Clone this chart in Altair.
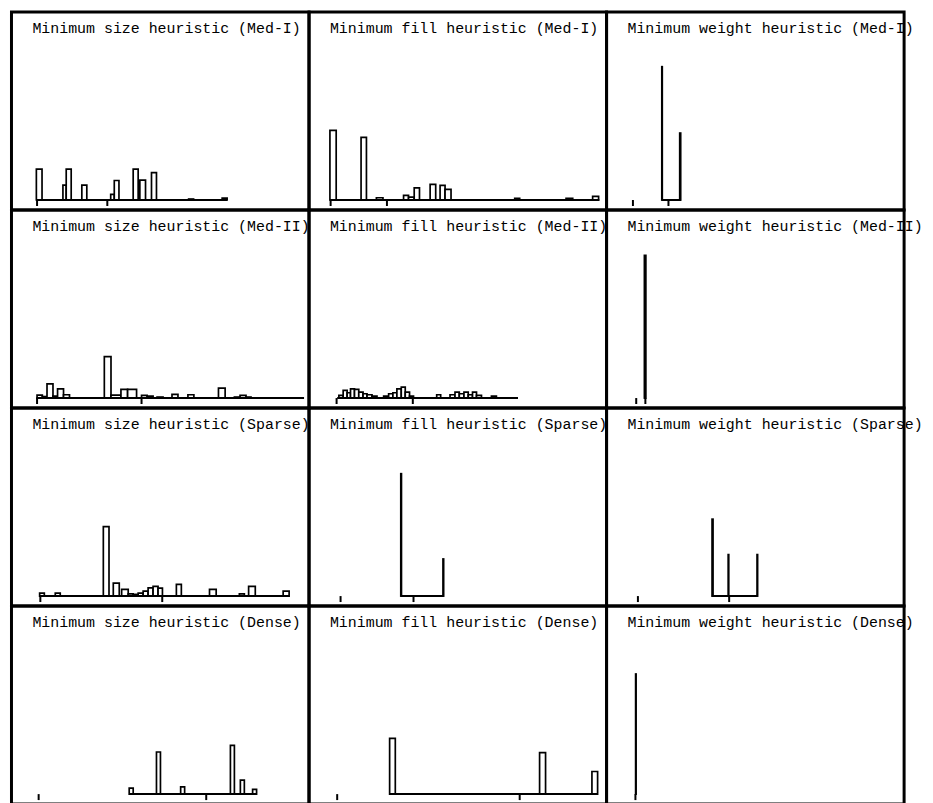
import altair as alt
import pandas as pd

# ---- data (panel-local units) ----
TITLES = [
    "Minimum size heuristic (Med-I)",
    "Minimum fill heuristic (Med-I)",
    "Minimum weight heuristic (Med-I)",
    "Minimum size heuristic (Med-II)",
    "Minimum fill heuristic (Med-II)",
    "Minimum weight heuristic (Med-II)",
    "Minimum size heuristic (Sparse)",
    "Minimum fill heuristic (Sparse)",
    "Minimum weight heuristic (Sparse)",
    "Minimum size heuristic (Dense)",
    "Minimum fill heuristic (Dense)",
    "Minimum weight heuristic (Dense)",
]

BIN_LO = [
    [25, 51.7, 55, 70.7, 99.7, 103.3, 122.3, 129, 140.7, 178, 211.7],
    [21, 52.3, 67.7, 95, 100, 105.7, 121.7, 131.7, 136.7, 206.7, 258.3, 285],
    [55.5, 73.5],
    [25.7, 31, 35.7, 41.7, 46.3, 52.3, 93.3, 100, 110, 116.7, 130.7, 136.3, 146.3, 161.3, 177.3, 208, 224, 229.7, 235.7],
    [30, 34.3, 38.3, 41.7, 45.7, 50, 54.3, 58.3, 63.3, 75, 80, 84.3, 88.3, 92.7, 96.7, 101,
     128.3, 141.7, 146.7, 151, 155.7, 160, 164.3, 168.3, 183.3],
    [38],
    [28.3, 44, 92.3, 102.3, 110.7, 117.3, 122.3, 127.3, 132.3, 137.3, 142.3, 147.3, 165.7, 199, 229, 238.3, 273],
    [92.2, 134.6],
    [106, 122.2, 151.2],
    [118.3, 145.7, 170, 220, 230, 242.3],
    [81, 231.7, 284.3],
    [29.2],
]
BIN_HI = [
    [30.7, 55, 60, 75.7, 103.3, 108, 127.3, 134.7, 145.7, 183, 216.7],
    [27.3, 57.7, 74.3, 100, 105.7, 111, 127.3, 136.7, 142.7, 211.7, 265, 291],
    [56, 74.5],
    [31, 35.7, 41.7, 46.3, 52.3, 58.3, 100, 110, 116.7, 125.7, 136.3, 142.3, 152.3, 167.3, 183.3, 214.7, 229.7, 235.7, 240.7],
    [34.3, 38.3, 41.7, 45.7, 50, 54.3, 58.3, 63.3, 68.3, 80, 84.3, 88.3, 92.7, 96.7, 101, 105,
     132.3, 146.7, 151, 155.7, 160, 164.3, 168.3, 173.3, 188.3],
    [39.5],
    [33, 49, 98, 108.3, 117.3, 122.3, 127.3, 132.3, 137.3, 142.3, 147.3, 151.7, 170.7, 205.7, 234, 245, 279],
    [92.9, 135.3],
    [107, 122.8, 151.8],
    [122.3, 149.7, 174, 224, 234, 246.3],
    [86.7, 237.7, 290],
    [29.7],
]
COUNTS = [
    [31, 15, 31, 15, 5.6, 19.6, 31, 20, 27.6, 1, 2],
    [70, 63, 2.3, 4.7, 3, 12.3, 15.7, 14.7, 10.7, 1.7, 1.7, 3.7],
    [134, 67.3],
    [3, 1.5, 14.3, 2, 9.3, 3.3, 41.7, 3, 8.7, 8.7, 2.7, 2, 1, 3.7, 3.3, 10, 1, 2.7, 1],
    [2.7, 7.7, 5.3, 9.3, 8.7, 6, 4.3, 3.3, 2, 2, 4.3, 5.3, 9.3, 11, 6, 2,
     3.3, 3.3, 6, 4.3, 6, 3.3, 6, 2.7, 2],
    [143.4],
    [3, 3, 69.7, 13, 6.7, 2.3, 1.7, 3, 5, 8.3, 9.7, 8, 11.7, 6.7, 2.3, 9.7, 5],
    [123, 37.3],
    [77.3, 41.7, 41.7],
    [6, 42.3, 7.3, 49, 14, 4.7],
    [56, 41.7, 22.7],
    [120.7],
]
RANGE_LO = [25, 21, 55.5, 25, 28.3, 38, 28.3, 92.5, 105.8, 118.3, 81, 29.2]
RANGE_HI = [216.7, 291.7, 74.8, 294, 210, 39.5, 279, 135.3, 151.8, 246.3, 290, 29.7]
TICKS = [
    [25.7, 96.3], [21.7, 78.3], [26.5, 62.2],
    [25.7, 130.7], [27.7, 104.3], [29.8, 39],
    [29, 151.5], [31.7, 105], [31.5, 123.2],
    [27.3, 195.7], [28.3, 211.7], [29],
]

W = 299
HEIGHTS = [199, 199, 199, 199]
FONT = "Liberation Mono"

panels = []
for i, title in enumerate(TITLES):
    h = HEIGHTS[i // 3]
    xs = alt.Scale(domain=[0, W], nice=False, zero=False)
    ys = alt.Scale(domain=[-10, h - 10], nice=False, zero=False)

    bins = pd.DataFrame({"lo": BIN_LO[i], "hi": BIN_HI[i], "n": COUNTS[i]})
    bars = alt.Chart(bins).mark_rect(fill="white", stroke="black", strokeWidth=1.7).encode(
        x=alt.X("lo:Q", scale=xs, axis=None),
        x2="hi:Q",
        y=alt.Y("n:Q", scale=ys, axis=None),
        y2=alt.Y2Datum(0),
    )

    rng = pd.DataFrame({"lo": [RANGE_LO[i]], "hi": [RANGE_HI[i]]})
    base = alt.Chart(rng).mark_rule(color="black", strokeWidth=2).encode(
        x=alt.X("lo:Q", scale=xs, axis=None),
        x2="hi:Q",
        y=alt.YDatum(0, scale=ys, axis=None),
    )

    tdf = pd.DataFrame({"t": TICKS[i]})
    ticks = alt.Chart(tdf).mark_rule(color="black", strokeWidth=2).encode(
        x=alt.X("t:Q", scale=xs, axis=None),
        y=alt.YDatum(0, scale=ys, axis=None),
        y2=alt.Y2Datum(-6),
    )

    txt = alt.Chart(pd.DataFrame({"title": [title]})).mark_text(
        align="left", baseline="alphabetic", font=FONT, fontSize=15, color="black"
    ).encode(text="title:N", x=alt.value(21), y=alt.value(21))

    panels.append(alt.layer(bars, base, ticks, txt).properties(width=W, height=h))

chart = (
    alt.concat(*panels, columns=3, spacing=0, bounds="flush")
    .properties(padding={"left": 1.5, "top": 0, "right": 0, "bottom": 0}, background="white")
    .configure_view(stroke="black", strokeWidth=3)
)

chart.save("out.html", embed_options={"renderer": "svg", "actions": False})
